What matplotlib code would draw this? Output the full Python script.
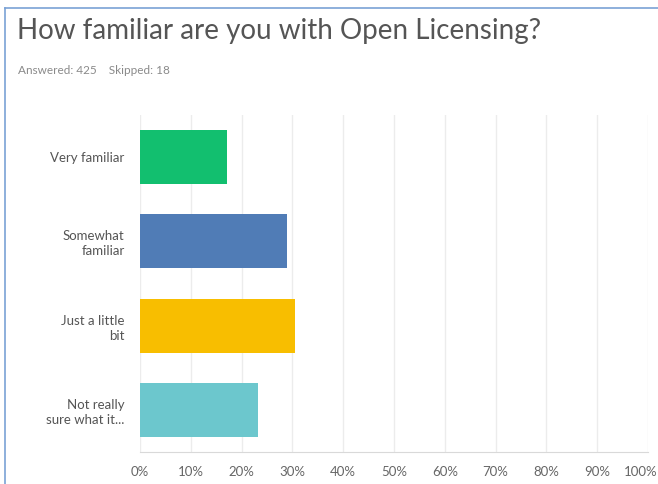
import matplotlib.pyplot as plt
import matplotlib.transforms as mtransforms
from matplotlib.lines import Line2D

# survey data (425 answered)
categories = ['Very familiar', 'Somewhat\nfamiliar', 'Just a little\nbit', 'Not really\nsure what it...']
shares = [17.18, 28.94, 30.59, 23.29]
colors = ['#12bf6f', '#507cb6', '#f8be00', '#6cc7cd']
ticks = list(range(0, 101, 10))
tick_labels = ['{}%'.format(t) for t in ticks]

W, H = 658, 484
fig = plt.figure(figsize=(W / 100, H / 100), dpi=100)
plt.rcParams['font.family'] = ['Lato', 'DejaVu Sans']

# axes placed in pixel coords
x0, x1 = 140, 648
y0, y1 = 115, 452
ax = fig.add_axes([x0 / W, 1 - y1 / H, (x1 - x0) / W, (y1 - y0) / H])

ypos = list(range(len(categories)))
ax.barh(ypos, shares, height=0.64, color=colors, zorder=3)
ax.set_ylim(3.5, -0.5)
ax.set_xlim(0, 100)
ax.set_xticks(ticks)
ax.set_xticklabels(tick_labels, fontsize=9.5, color='#666666')
ax.set_yticks(ypos)
ax.set_yticklabels(categories, fontsize=9.5, color='#555555', linespacing=1.3)
ax.tick_params(axis='x', length=0, pad=10)
ax.tick_params(axis='y', length=0, pad=11)
ax.grid(axis='x', color='#ececec', linewidth=1, zorder=0)
for s in ['top', 'right', 'left']:
    ax.spines[s].set_visible(False)
ax.spines['bottom'].set_color('#d9d9d9')

# last label pulled in so it stays inside the picture
last = ax.get_xticklabels()[-1]
last.set_transform(last.get_transform() + mtransforms.ScaledTranslation(-7 / 100, 0, fig.dpi_scale_trans))

# title texts
fig.text(17 / W, 1 - 31 / H, 'How familiar are you with Open Licensing?',
         fontsize=20, color='#555555', va='center', ha='left')
fig.text(18 / W, 1 - 70 / H, 'Answered: 425    Skipped: 18',
         fontsize=8.5, color='#8a8a8a', va='center', ha='left')

# blue frame on left and top
fig.add_artist(Line2D([5 / W, 5 / W], [0, 1 - 8 / H], color='#7aa2d6', lw=1.2))
fig.add_artist(Line2D([5 / W, 1], [1 - 8 / H, 1 - 8 / H], color='#7aa2d6', lw=1.2))

fig.savefig('out.png', dpi=100)
